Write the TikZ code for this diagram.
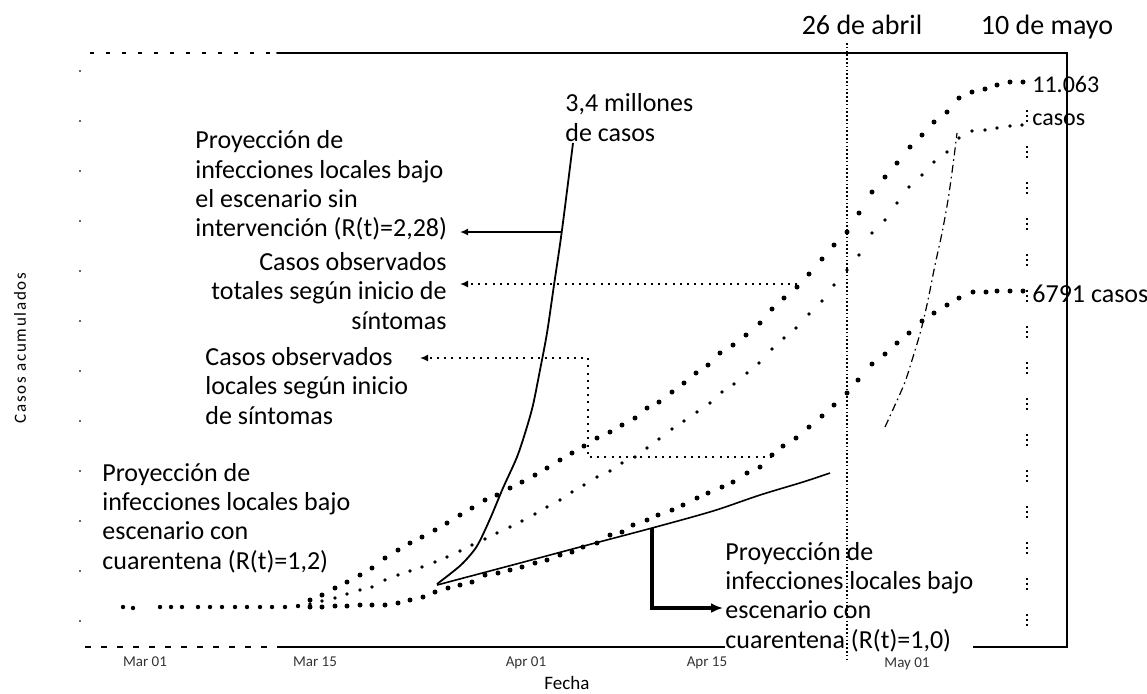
\documentclass[tikz,border=0pt]{standalone}
\usepackage{fontspec}
\setmainfont{Carlito}
\usetikzlibrary{arrows.meta}
\begin{document}
\begin{tikzpicture}[x=0.5pt,y=-0.5pt,
  lbl/.style={font=\fontsize{13}{14.6}\selectfont, inner sep=0pt, align=left, text=black},
  toplbl/.style={font=\fontsize{14}{16}\selectfont, inner sep=0pt, anchor=base},
  ticklbl/.style={font=\fontsize{7.5}{9}\selectfont, inner sep=0pt, text=black!80},
  frameln/.style={line width=1pt, line cap=round},
  daydot/.style={fill=black},
  solidarr/.style={line width=0.8pt, -{Latex[length=4pt,width=3.5pt]}},
  dotarr/.style={line width=0.9pt, dash pattern=on 1pt off 2.6pt, -{Latex[length=4pt,width=3.5pt]}},
  thickarr/.style={line width=1.6pt, -{Latex[length=6pt,width=5pt]}},
  projline/.style={line width=0.9pt},
  dashdotline/.style={line width=0.6pt, dash pattern=on 4pt off 2pt on 0.8pt off 2pt}
]
\useasboundingbox (0,0) rectangle (1147,693);

% ---- frame ----
\draw[frameln] (277,53) -- (1067,53) -- (1067,647) -- (280,647);
\draw[line width=0.8pt, dash pattern=on 2pt off 6pt] (90,53) -- (277,53);
\draw[line width=0.8pt, dash pattern=on 3pt off 5pt] (85,647) -- (280,647);
\draw[black!60, line width=0.6pt, dash pattern=on 1pt off 24pt] (80,70) -- (80,640);

% ---- right projection label (covers the axis) ----
\node[lbl, fill=white, anchor=west] (lblF) at (725,597)
  {Proyección de\\infecciones locales bajo\\escenario con\\cuarentena (R(t)=1,0)};

% ---- vertical date lines ----
\coordinate (abrTop) at (847,43);
\coordinate (abrBot) at (847,660);
\draw[line width=0.7pt, dash pattern=on 0.8pt off 1.1pt] (abrTop) -- (abrBot);
\coordinate (mayTop) at (1027,110);
\coordinate (mayBot) at (1027,640);
\draw[line width=0.7pt, dash pattern=on 1pt off 1.5pt on 1pt off 1.5pt on 1pt off 12pt] (mayTop) -- (mayBot);

% ---- dotted curves ----
\def\basepts{123/607,133/608,160/607,171/607,182/607,198/607,210/607,222/607,235/607,247/607,260/607,272/607,285/607,298/606}
\def\upperpts{310/600,322/595,335/588,347/582,360/575,372/568,385/558,398/550,410/543,422/537,435/530,447/523,460/515,472/508,485/500,497/495,510/488,522/482,535/475,547/468,560/460,572/453,584/446,597/438,610/432,622/425,635/418,647/408,659/402,672/392,684/383,696/373,708/365,720/353,733/345,746/335,760/323,772/309,784/298,797/287,809/274,822/259,834/245,847/232,859/213,872/192,885/177,897/163,910/147,922/135,934/122,947/112,959/98,972/92,985/89,997/85,1010/82,1023/82}
\def\middlepts{310/604,322/601,335/598,347/594,360/590,372/587,385/580,398/575,410/571,422/567,435/562,447/557,460/551,472/545,485/539,497/533,510/527,522/521,535/514,547/507,560/500,572/492,584/485,597/477,610/471,622/463,635/457,647/448,659/439,672/429,684/421,697/412,710/403,722/392,734/384,747/373,759/363,772/349,784/338,796/328,809/314,822/301,834/285,847/270,859/255,872/233,885/220,897/203,909/187,922/175,934/162,947/152,959/138,972/131,985/130,997/128,1010/126,1022/125}
\def\lowerpts{310/607,322/607,335/606,347/606,360/605,372/605,385/605,398/603,410/600,423/597,435/592,448/588,460/585,472/582,485/575,498/573,510/570,522/567,535/563,547/560,560/555,572/552,583/547,597/543,610/535,622/532,633/525,647/520,658/515,672/510,683/505,697/498,708/493,722/487,733/482,747/473,760/467,772/455,783/446,796/438,809/427,822/416,834/405,847/393,858/380,872/364,885/354,897/343,909/333,922/321,934/313,947/305,959/298,973/292,986/292,997/291,1010/291,1023/291}
\foreach \x/\y in \basepts {\fill[daydot] (\x,\y) circle[radius=1.1pt];}
\foreach \x/\y in \upperpts {\fill[daydot] (\x,\y) circle[radius=1.25pt];}
\foreach \x/\y in \middlepts {\fill[daydot] (\x,\y) circle[radius=0.95pt];}
\foreach \x/\y in \lowerpts {\fill[daydot] (\x,\y) circle[radius=1.25pt];}

% ---- projection lines ----
\draw[projline] plot[smooth] coordinates {(437,584) (450,574) (463,563) (477,546) (490,519) (503,488) (517,457) (526,430) (533,405) (540,370) (547,333) (554,285) (562,230) (573,143)};
\draw[projline, line width=0.8pt] plot[smooth] coordinates {(437,585) (520,563) (580,547) (652,528) (713,511) (760,495) (803,482) (830,473)};
\draw[dashdotline] plot[smooth] coordinates {(885,427) (895,405) (905,382) (913,357) (921,330) (928,300) (935,265) (942,233) (948,200) (953,165) (957,133)};

% ---- labels ----
\node[toplbl] (abril) at (862,34) {26 de abril};
\node[toplbl] (mayo) at (1047,34) {10 de mayo};
\node[lbl, font=\fontsize{12}{16.5}\selectfont, anchor=west] (lbl11063) at (1032,101) {11.063\\casos};
\node[lbl, anchor=west] (lbl6791) at (1032,294) {6791 casos};
\node[lbl, anchor=west] (lblE) at (565,117.5) {3,4 millones\\de casos};
\node[lbl, anchor=west] (lblA) at (195,185.5)
  {Proyección de\\infecciones locales bajo\\el escenario sin\\intervención (R(t)=2,28)};
\node[lbl, align=right, anchor=east] (lblB) at (447,291)
  {Casos observados\\totales según inicio de\\síntomas};
\node[lbl, anchor=west] (lblC) at (205,386)
  {Casos observados\\locales según inicio\\de síntomas};
\node[lbl, anchor=west] (lblD) at (102,518)
  {Proyección de\\infecciones locales bajo\\escenario con\\cuarentena (R(t)=1,2)};

\node[ticklbl] (tMar01) at (145,662) {Mar 01};
\node[ticklbl] (tMar15) at (315,662) {Mar 15};
\node[ticklbl] (tApr01) at (526,663) {Apr 01};
\node[ticklbl] (tApr15) at (707,663) {Apr 15};
\node[ticklbl] (tMay01) at (907,664) {May 01};
\node[font=\fontsize{9.5}{11}\selectfont, inner sep=0pt] (fecha) at (567,683) {Fecha};
\node[rotate=90, inner sep=0pt, font=\fontsize{8.5}{10}\selectfont\addfontfeature{LetterSpace=10}] (ylab) at (20,348) {Casos acumulados};

% ---- connectors ----
\coordinate (pA) at (561,232);
\coordinate (tA) at (460,232);
\draw[solidarr] (pA) -- (tA);
\coordinate (pB) at (797,284);
\coordinate (tB) at (460,284);
\draw[dotarr] (pB) -- (tB);
\coordinate (pC) at (772,457);
\coordinate (kC) at (588,457);
\coordinate (tC) at (420,358);
\draw[dotarr] (pC) -- (kC) |- (tC);
\coordinate (pD) at (652,528);
\coordinate (tD) at (723,608);
\draw[thickarr] (pD) |- (tD);
\end{tikzpicture}
\end{document}
